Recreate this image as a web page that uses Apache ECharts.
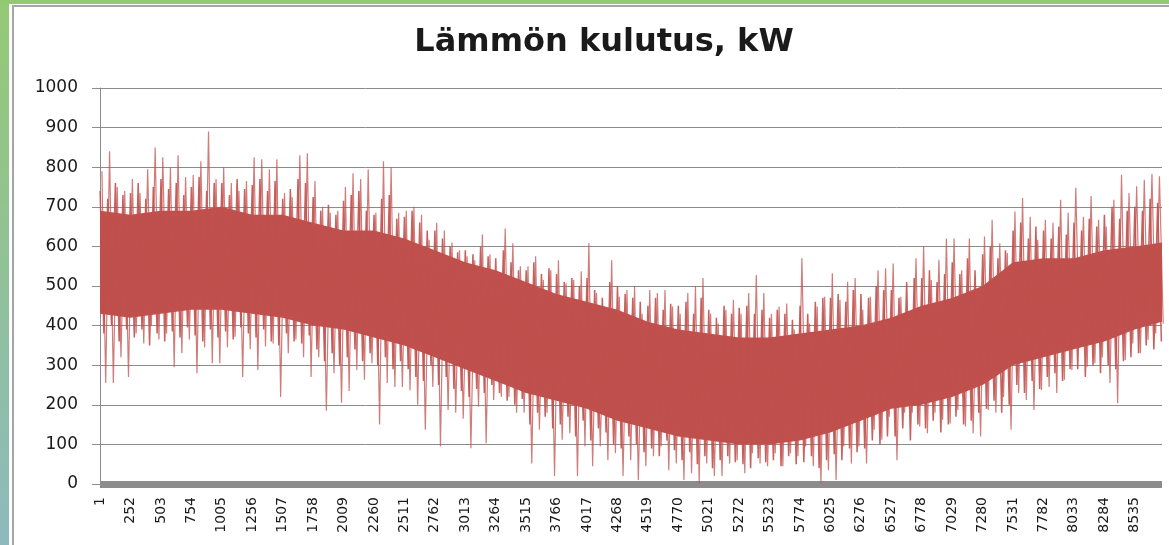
<!DOCTYPE html>
<html>
<head>
<meta charset="utf-8">
<title>Lämmön kulutus</title>
<script src="https://cdn.jsdelivr.net/npm/echarts@6/dist/echarts.min.js"></script>
<style>
  html, body { margin: 0; padding: 0; background: #fff; }
  #chart { width: 1169px; height: 545px; }
</style>
</head>
<body>
<div id="chart"></div>
<script>
// tuntikategoriat 1..8760
const hours = Array.from({ length: 8760 }, (_, i) => String(i + 1));

// piikkien lukemat noin 62.75 tunnin välein (ylä- ja alapiikki)
const spikeStep = 62.75;
const spikeTop = [
  790, 840, 750, 740, 770, 735, 795, 850, 825, 800, 830, 775, 780, 815, 890, 770, 800,
  760, 740, 765, 825, 820, 795, 820, 735, 725, 830, 835, 765, 700, 685, 690, 750, 785,
  770, 795, 685, 815, 800, 685, 690, 700, 680, 617, 660, 640, 610, 590, 575, 565, 630,
  580, 515, 645, 608, 550, 550, 575, 515, 540, 565, 507, 515, 537, 608, 482, 448, 565,
  473, 490, 500, 430, 490, 482, 490, 448, 430, 482, 500, 520, 430, 405, 440, 465, 430,
  482, 528, 482, 430, 448, 456, 390, 570, 405, 448, 473, 532, 465, 511, 520, 440, 473,
  540, 545, 557, 473, 430, 570, 600, 515, 566, 620, 620, 540, 620, 482, 625, 667, 608,
  583, 688, 722, 675, 617, 667, 660, 718, 685, 748, 675, 727, 667, 650, 718, 781, 735,
  752, 768, 783, 777
];
const spikeLow = [
  255, 255, 320, 270, 380, 355, 400, 365, 380, 295, 330, 365, 280, 345, 305, 305, 345,
  372, 270, 340, 288, 347, 355, 220, 330, 365, 320, 270, 320, 185, 280, 205, 235, 288,
  263, 305, 150, 255, 245, 245, 237, 200, 137, 245, 95, 187, 180, 165, 90, 195, 103,
  212, 220, 220, 180, 180, 52, 137, 180, 20, 112, 128, 20, 95, 45, 95, 60, 78,
  20, 60, 10, 45, 70, 95, 35, 52, 10, 27, 2, 52, 20, 20, 52, 60, 27,
  78, 52, 45, 78, 45, 78, 70, 95, 45, 2, 35, 10, 95, 52, 95, 52, 137,
  112, 170, 60, 180, 180, 145, 128, 180, 162, 153, 187, 145, 128, 120, 187, 180, 220,
  137, 230, 212, 187, 237, 245, 230, 263, 288, 347, 296, 305, 320, 255, 204, 313, 355,
  330, 364, 380, 405
];

// tiheämpi reunavyöhyke samoilla väleillä (toiseksi korkeimmat piikit)
const fringeTop = [
  740, 720, 760, 730, 735, 760, 720, 750, 770, 745, 760, 730, 750, 775, 740, 760,
  760, 730, 770, 745, 755, 770, 740, 765, 720, 745, 770, 760, 725, 690, 705, 680,
  715, 730, 740, 690, 680, 720, 730, 670, 675, 690, 660, 640, 640, 620, 600, 585,
  590, 580, 600, 575, 570, 590, 560, 540, 540, 560, 530, 545, 530, 510, 520, 500,
  520, 490, 470, 510, 500, 480, 470, 460, 450, 470, 440, 455, 450, 460, 430, 470,
  440, 420, 450, 430, 445, 450, 430, 440, 420, 440, 430, 415, 450, 430, 460, 470,
  470, 480, 460, 490, 480, 470, 500, 490, 490, 470, 510, 520, 520, 540, 510, 530,
  560, 530, 570, 540, 580, 600, 570, 590, 640, 660, 620, 650, 640, 620, 650, 630,
  660, 640, 670, 650, 680, 700, 670, 690, 700, 690, 720, 710
];
const fringeLow = [
  380, 400, 360, 390, 370, 390, 350, 380, 360, 385, 370, 395, 375, 360, 390, 370,
  385, 365, 395, 380, 370, 390, 360, 350, 380, 360, 355, 375, 340, 310, 330, 300,
  320, 340, 310, 330, 300, 320, 290, 310, 290, 270, 260, 300, 250, 270, 240, 235,
  220, 240, 230, 250, 230, 210, 200, 215, 150, 180, 170, 140, 150, 170, 120, 160,
  110, 140, 130, 100, 90, 120, 100, 80, 90, 70, 110, 85, 60, 80, 50, 70,
  40, 60, 70, 55, 50, 40, 65, 55, 60, 45, 70, 50, 55, 70, 40, 60,
  75, 60, 90, 80, 90, 110, 100, 120, 120, 140, 110, 150, 140, 160, 130, 150,
  170, 150, 160, 180, 190, 210, 180, 200, 250, 230, 260, 240, 270, 280, 260, 290,
  290, 270, 300, 280, 300, 290, 310, 320, 330, 350, 340, 360
];

// tiivis ydinalue (tumma kaista) luettuna akselin merkintöjen kohdilta
const coreHours = [
  1, 252, 503, 754, 1005, 1256, 1507, 1758, 2009, 2260, 2511, 2762, 3013, 3264, 3515,
  3766, 4017, 4268, 4519, 4770, 5021, 5272, 5523, 5774, 6025, 6276, 6527, 6778, 7029,
  7280, 7531, 7782, 8033, 8284, 8535, 8760
];
const coreHi = [
  690, 680, 690, 690, 700, 680, 680, 660, 640, 640, 620, 590, 560, 540, 510,
  480, 460, 440, 410, 390, 380, 370, 370, 380, 390, 400, 420, 450, 470,
  500, 560, 570, 570, 590, 600, 610
];
const coreLo = [
  430, 420, 430, 440, 440, 430, 420, 400, 390, 370, 350, 320, 290, 260, 230,
  210, 190, 160, 140, 120, 110, 100, 100, 110, 130, 160, 190, 200, 220,
  250, 300, 320, 340, 360, 390, 410
];

const red = '#c0504d';

const spikeData = [];
spikeTop.forEach((v, k) => {
  spikeData.push([Math.round(k * spikeStep + 16), v]);
  spikeData.push([Math.round(k * spikeStep + 47), spikeLow[k]]);
});
const fringeData = [];
fringeTop.forEach((v, k) => {
  fringeData.push([Math.round(k * spikeStep + 1), v]);
  fringeData.push([Math.round(k * spikeStep + 32), fringeLow[k]]);
});
const coreBase = coreHours.map((h, i) => [h - 1, coreLo[i]]);
const coreBand = coreHours.map((h, i) => [h - 1, coreHi[i] - coreLo[i]]);

const chart = echarts.init(document.getElementById('chart'));

const option = {
  animation: false,
  backgroundColor: '#ffffff',
  graphic: [
    {
      type: 'rect',
      shape: { x: 0, y: 0, width: 9, height: 545 },
      style: {
        fill: new echarts.graphic.LinearGradient(0, 0, 0, 1, [
          { offset: 0, color: '#94c974' },
          { offset: 1, color: '#8fb9bd' }
        ])
      },
      silent: true
    },
    {
      type: 'rect',
      shape: { x: 0, y: 0, width: 1169, height: 4 },
      style: { fill: '#94c974' },
      silent: true
    },
    {
      type: 'rect',
      shape: { x: 13, y: 6, width: 1180, height: 560 },
      style: { fill: 'none', stroke: '#a6a6a6', lineWidth: 2 },
      silent: true
    }
  ],
  title: {
    text: 'Lämmön kulutus, kW',
    left: 599,
    textAlign: 'center',
    top: 22,
    textStyle: {
      fontFamily: 'DejaVu Sans',
      fontWeight: 'bold',
      fontSize: 32,
      color: '#1a1a1a'
    }
  },
  grid: {
    left: 100,
    right: 7,
    top: 88,
    bottom: 61
  },
  xAxis: {
    type: 'category',
    data: hours,
    boundaryGap: false,
    offset: 3,
    axisLine: {
      lineStyle: { color: '#8c8c8c', width: 7, cap: 'butt' }
    },
    axisTick: { show: false },
    axisLabel: {
      interval: 250,
      rotate: 90,
      margin: 10,
      fontFamily: 'DejaVu Sans',
      fontSize: 14,
      color: '#1a1a1a'
    },
    splitLine: { show: false }
  },
  yAxis: {
    type: 'value',
    min: 0,
    max: 1000,
    interval: 100,
    axisLine: {
      show: true,
      lineStyle: { color: '#8c8c8c', width: 1 }
    },
    axisTick: {
      show: true,
      length: 8,
      lineStyle: { color: '#8c8c8c' }
    },
    axisLabel: {
      margin: 22,
      fontFamily: 'DejaVu Sans',
      fontSize: 17,
      color: '#1a1a1a',
      formatter: (v) => String(v)
    },
    splitLine: {
      lineStyle: { color: '#8c8c8c', width: 1 }
    }
  },
  series: [
    {
      name: 'pohja',
      type: 'line',
      stack: 'ydin',
      data: coreBase,
      showSymbol: false,
      lineStyle: { opacity: 0 },
      areaStyle: { opacity: 0 },
      silent: true
    },
    {
      name: 'ydin',
      type: 'line',
      stack: 'ydin',
      data: coreBand,
      showSymbol: false,
      lineStyle: { opacity: 0 },
      areaStyle: { color: red, opacity: 1 }
    },
    {
      name: 'reuna',
      type: 'line',
      data: fringeData,
      showSymbol: false,
      sampling: false,
      lineStyle: { color: red, width: 1.5, opacity: 0.9 }
    },
    {
      name: 'Lämmön kulutus',
      type: 'line',
      data: spikeData,
      showSymbol: false,
      sampling: false,
      lineStyle: { color: red, width: 1.2, opacity: 0.75 }
    }
  ]
};

chart.setOption(option);
</script>
</body>
</html>
